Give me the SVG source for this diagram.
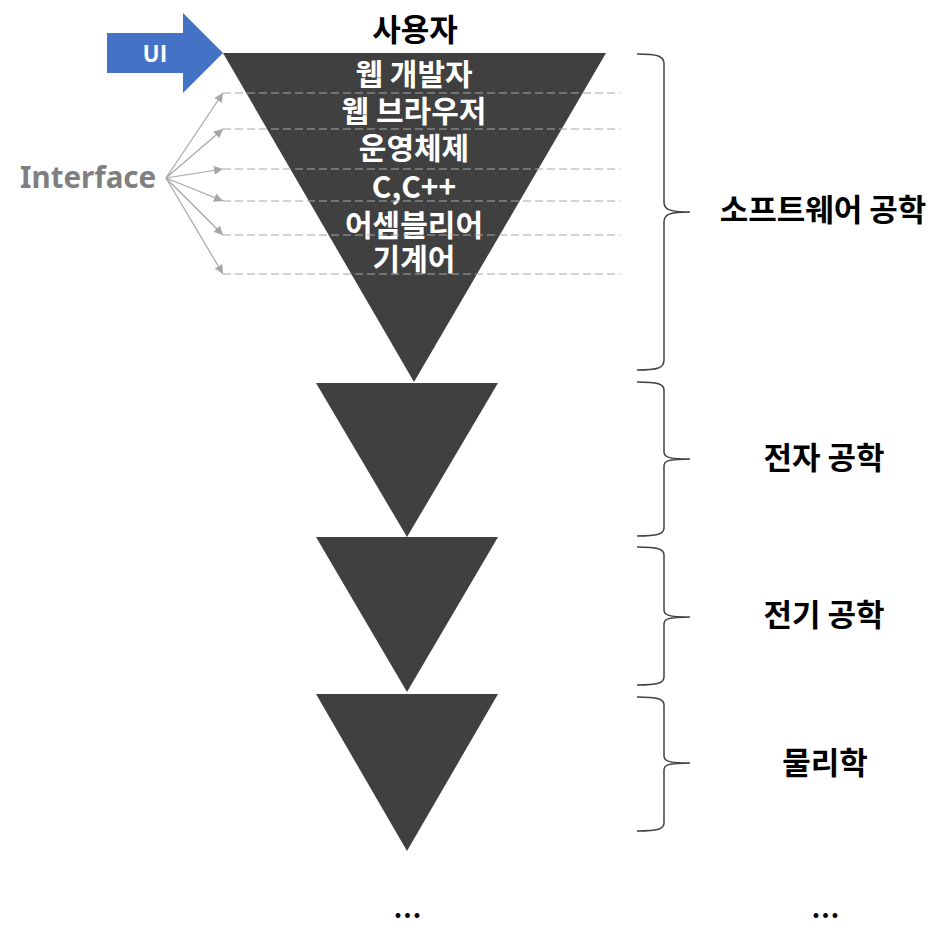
<svg xmlns="http://www.w3.org/2000/svg" width="947" height="952" viewBox="0 0 947 952">
<style>
.tri{fill:#404040}
.t{font-family:"Noto Sans CJK KR","Noto Sans",sans-serif;font-weight:bold;text-anchor:middle}
.w{fill:#ffffff;font-size:30px}
.b{fill:#000000;font-size:31px}
.dash{stroke:#a6a6a6;stroke-width:1.2;stroke-dasharray:8 4;fill:none}
.ar{stroke:#a6a6a6;stroke-width:1.2;fill:none;marker-end:url(#ah)}
.br{stroke:#404040;stroke-width:1.5;fill:none}
</style>
<defs>
<marker id="ah" viewBox="0 0 10 10" refX="10" refY="5" markerWidth="9" markerHeight="9" markerUnits="userSpaceOnUse" orient="auto">
<path d="M0,0 L10,5 L0,10 Z" fill="#a6a6a6"/>
</marker>
</defs>
<rect width="947" height="952" fill="#ffffff"/>
<g id="ui-arrow">
<path d="M107,33 L183,33 L183,13 L223,53 L183,93 L183,73 L107,73 Z" fill="#4472c4"/>
<text class="t" x="155" y="62" fill="#ffffff" font-size="23">UI</text>
</g>
<g id="user"><text class="t b" x="415" y="41" font-size="32">사용자</text></g>
<g id="software-triangle">
<polygon class="tri" points="223,53 606,53 414,382"/>
<text class="t w" x="414" y="85">웹 개발자</text>
<text class="t w" x="414" y="122">웹 브라우저</text>
<text class="t w" x="414" y="159">운영체제</text>
<text class="t w" x="414" y="198">C,C++</text>
<text class="t w" x="414" y="236">어셈블리어</text>
<text class="t w" x="414" y="270">기계어</text>
</g>
<g id="electronics-triangle"><polygon class="tri" points="316,383 498,383 407,537"/></g>
<g id="electrical-triangle"><polygon class="tri" points="316,537 498,537 407,692"/></g>
<g id="physics-triangle"><polygon class="tri" points="316,694 498,694 407,851"/></g>
<g id="interface">
<text x="20" y="188" font-family="'Noto Sans',sans-serif" font-weight="bold" font-size="29.5" fill="#7f7f7f">Interface</text>
</g>
<g id="connectors">
<line class="dash" x1="223" y1="93" x2="620" y2="93"/>
<line class="dash" x1="223" y1="129" x2="620" y2="129"/>
<line class="dash" x1="223" y1="169" x2="620" y2="169"/>
<line class="dash" x1="223" y1="201" x2="620" y2="201"/>
<line class="dash" x1="223" y1="235" x2="620" y2="235"/>
<line class="dash" x1="223" y1="274" x2="620" y2="274"/>
<line class="ar" x1="166" y1="178" x2="223" y2="93"/>
<line class="ar" x1="166" y1="178" x2="223" y2="129"/>
<line class="ar" x1="166" y1="178" x2="223" y2="169"/>
<line class="ar" x1="166" y1="178" x2="223" y2="201"/>
<line class="ar" x1="166" y1="178" x2="223" y2="235"/>
<line class="ar" x1="166" y1="178" x2="223" y2="274"/>
</g>
<g id="brace-software">
<path class="br" d="M637,54 C658,54 664,56 664,64 L664,202 C664,209 668,212 690,212 C668,212 664,215 664,222 L664,360 C664,368 658,370 637,370"/>
<text class="t b" x="823" y="221">소프트웨어 공학</text>
</g>
<g id="brace-electronics">
<path class="br" d="M637,382 C658,382 664,384 664,390 L664,452 C664,457 668,459 690,459 C668,459 664,461 664,466 L664,528 C664,534 658,536 637,536"/>
<text class="t b" x="824" y="469" font-size="29">전자 공학</text>
</g>
<g id="brace-electrical">
<path class="br" d="M637,547 C658,547 664,549 664,555 L664,610 C664,615 668,617 690,617 C668,617 664,619 664,624 L664,677 C664,683 658,685 637,685"/>
<text class="t b" x="824" y="626" font-size="29">전기 공학</text>
</g>
<g id="brace-physics">
<path class="br" d="M637,697 C658,697 664,699 664,705 L664,756 C664,761 668,763 690,763 C668,763 664,765 664,770 L664,823 C664,829 658,831 637,831"/>
<text class="t b" x="825" y="774" font-size="30">물리학</text>
</g>
<g id="ellipsis">
<text class="t" x="408" y="918" font-size="26" letter-spacing="1" fill="#000">...</text>
<text class="t" x="826" y="918" font-size="26" letter-spacing="1" fill="#000">...</text>
</g>
</svg>
